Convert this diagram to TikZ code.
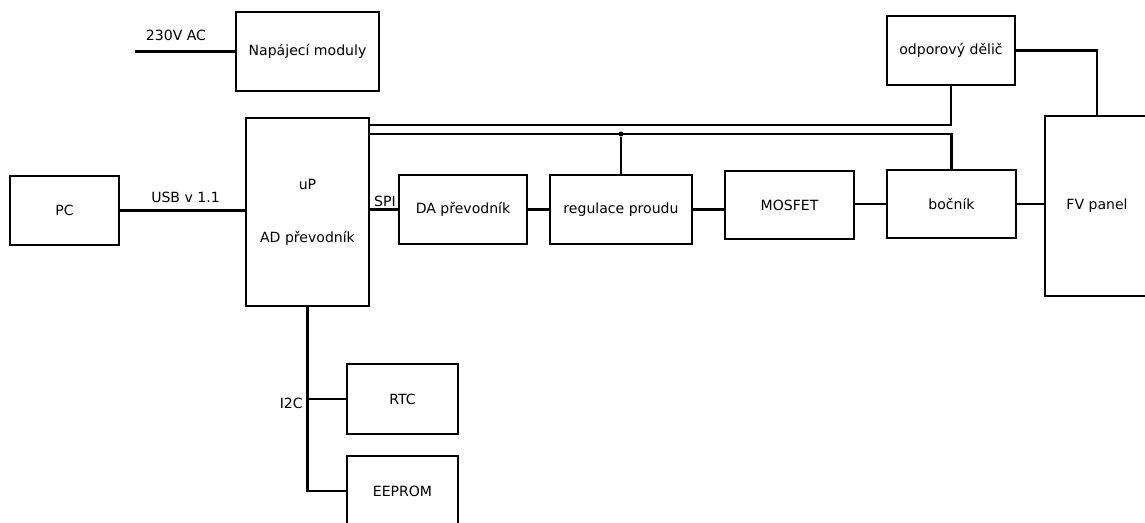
\documentclass[tikz,border=0pt]{standalone}
\usepackage{fontspec}
\setmainfont{DejaVu Sans}
\usetikzlibrary{calc}
\tikzset{
  blok/.style 2 args={draw, line width=1.3pt, minimum width=#1*0.02cm,
    minimum height=#2*0.02cm, inner sep=0pt, font=\fontsize{8}{10}\selectfont},
  spoj/.style={line width=1.3pt},
  popis/.style={inner sep=0pt, font=\fontsize{8}{10}\selectfont},
  uzel/.style={circle, fill, inner sep=0pt, minimum size=0.1cm}
}
\begin{document}
\begin{tikzpicture}[x=0.02cm, y=-0.02cm]
\useasboundingbox (0,0) rectangle (1145,522);
\clip (0,0) rectangle (1145,522);
% bloky
\node[blok={143}{79}] (nap) at (307.5,51.5) {Napájecí moduly};
\node[blok={109}{69}] (pc) at (64.5,210.5) {PC};
\node[blok={123}{188}, align=center] (up) at (307.5,212) {uP\\[20pt]AD převodník};
\node[blok={128}{69}] (da) at (463,209.5) {DA převodník};
\node[blok={142}{69}] (reg) at (621,209.5) {regulace proudu};
\node[blok={129}{68}] (mos) at (789.5,205) {MOSFET};
\node[blok={129}{68}] (boc) at (951.5,204) {bočník};
\node[blok={128}{69}] (del) at (951,50.5) {odporový dělič};
\node[blok={104}{180}] (fv) at (1097,206) {FV panel};
\node[blok={111}{70}] (rtc) at (402.5,399) {RTC};
\node[blok={111}{70}] (eep) at (402.5,491) {EEPROM};
% spoje
\coordinate (ac) at (135,51.5);
\draw[spoj] (ac) -- (nap.west);
\node[popis] (ac-l) at (176,35) {230V AC};
\draw[spoj] (pc.east) -- (pc.east -| up.west);
\node[popis] (usb) at (185.5,197) {USB v 1.1};
\draw[spoj] (da.west -| up.east) -- (da.west);
\node[popis] (spi) at (385,201) {SPI};
\draw[spoj] (da.east) -- (reg.west);
\draw[spoj] (reg.east) -- (reg.east -| mos.west);
\draw[spoj] (boc.west -| mos.east) -- (boc.west);
\draw[spoj] (boc.east) -- (boc.east -| fv.west);
\coordinate (t1) at (369,125);
\coordinate (t2) at (369,134);
\draw[spoj] (t1) -- (t1 -| del.south) -- (del.south);
\draw[spoj] (t2) -- (t2 -| boc.north) -- (boc.north);
\node[uzel] (bod) at (t2 -| reg.north) {};
\draw[spoj] (bod) -- (reg.north);
\draw[spoj] (del.east) -- (del.east -| fv.north) -- (fv.north);
\draw[spoj] (up.south) -- (up.south |- eep.west) -- (eep.west);
\draw[spoj] (up.south |- rtc.west) -- (rtc.west);
\node[popis, anchor=east] (i2c) at (303,403) {I2C};
\end{tikzpicture}
\end{document}
